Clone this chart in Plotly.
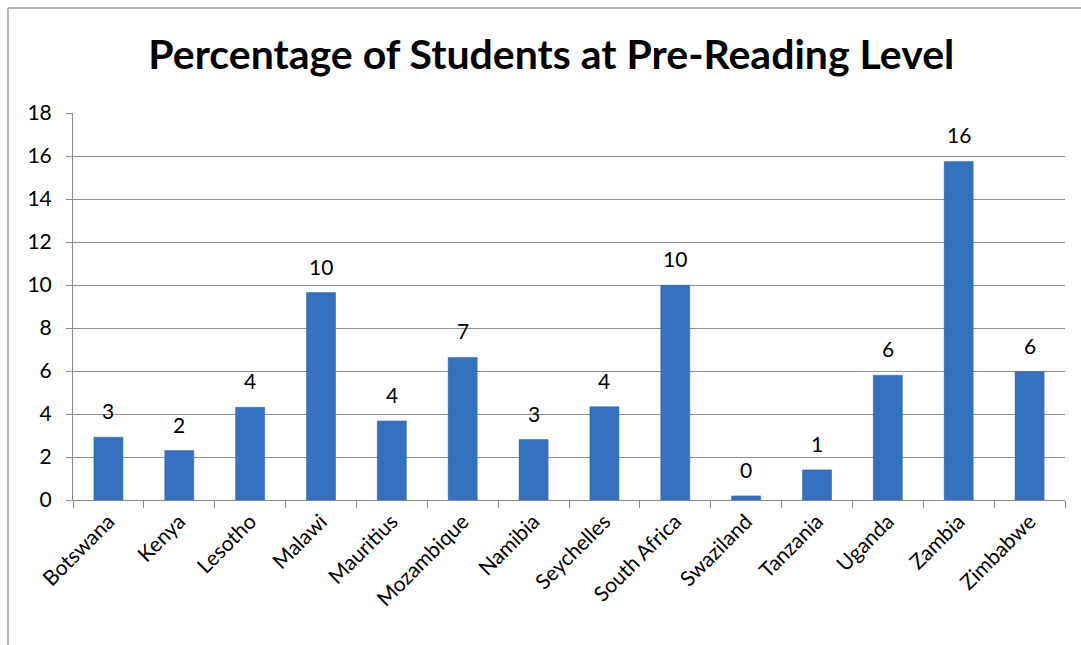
import plotly.graph_objects as go

countries = ["Botswana", "Kenya", "Lesotho", "Malawi", "Mauritius", "Mozambique",
             "Namibia", "Seychelles", "South Africa", "Swaziland", "Tanzania",
             "Uganda", "Zambia", "Zimbabwe"]
pre_reading_pct = [2.92, 2.30, 4.31, 9.65, 3.68, 6.63, 2.81, 4.34, 9.99, 0.19,
                   1.40, 5.80, 15.75, 5.97]
y_ticks = [0, 2, 4, 6, 8, 10, 12, 14, 16, 18]

W, H = 1081, 645
ML, MR, MT, MB = 73, 16, 113, 145
pw, ph = W - ML - MR, H - MT - MB
FONT = "Lato, Open Sans, sans-serif"

fig = go.Figure(go.Bar(
    x=countries, y=pre_reading_pct,
    marker=dict(color="#3571BE", line=dict(color="#2E63A8", width=0.5)),
    width=0.41,
))

for c, v in zip(countries, pre_reading_pct):
    fig.add_annotation(x=c, y=v, text=f"{v:.0f}", showarrow=False,
                       yanchor="bottom", yshift=12,
                       font=dict(family=FONT, size=21, color="#000000"))

fig.update_layout(
    width=W, height=H,
    margin=dict(l=ML, r=MR, t=MT, b=MB),
    paper_bgcolor="white", plot_bgcolor="white",
    showlegend=False,
    title=dict(text="<b>Percentage of Students at Pre-Reading Level</b>",
               x=0.51, xanchor="center", y=1 - 55 / H, yanchor="middle",
               font=dict(family=FONT, size=41, color="#000000")),
    xaxis=dict(
        showline=True, linecolor="#888888", linewidth=1,
        ticks="outside", ticklen=7, tickcolor="#888888", tickson="boundaries",
        tickangle=-45,
        tickfont=dict(family=FONT, size=21, color="#000000"),
        showgrid=False,
    ),
    yaxis=dict(
        range=[0, 18], tickvals=y_ticks,
        showline=True, linecolor="#888888", linewidth=1,
        ticks="outside", ticklen=6, tickcolor="#888888",
        ticklabelstandoff=10,
        showgrid=True, gridcolor="#8c8c8c", gridwidth=1,
        zeroline=False,
        tickfont=dict(family=FONT, size=21, color="#000000"),
    ),
    bargap=0.59,
)

# outer chart frame (left and top edges visible)
x_left = (8 - ML) / pw
y_top = (H - MB - 8) / ph
fig.add_shape(type="line", xref="paper", yref="paper",
              x0=x_left, x1=x_left, y0=y_top, y1=(H - MB - 650) / ph,
              line=dict(color="#9a9a9a", width=1.5))
fig.add_shape(type="line", xref="paper", yref="paper",
              x0=x_left, x1=(1090 - ML) / pw, y0=y_top, y1=y_top,
              line=dict(color="#9a9a9a", width=1.5))

fig.write_html("out.html")
